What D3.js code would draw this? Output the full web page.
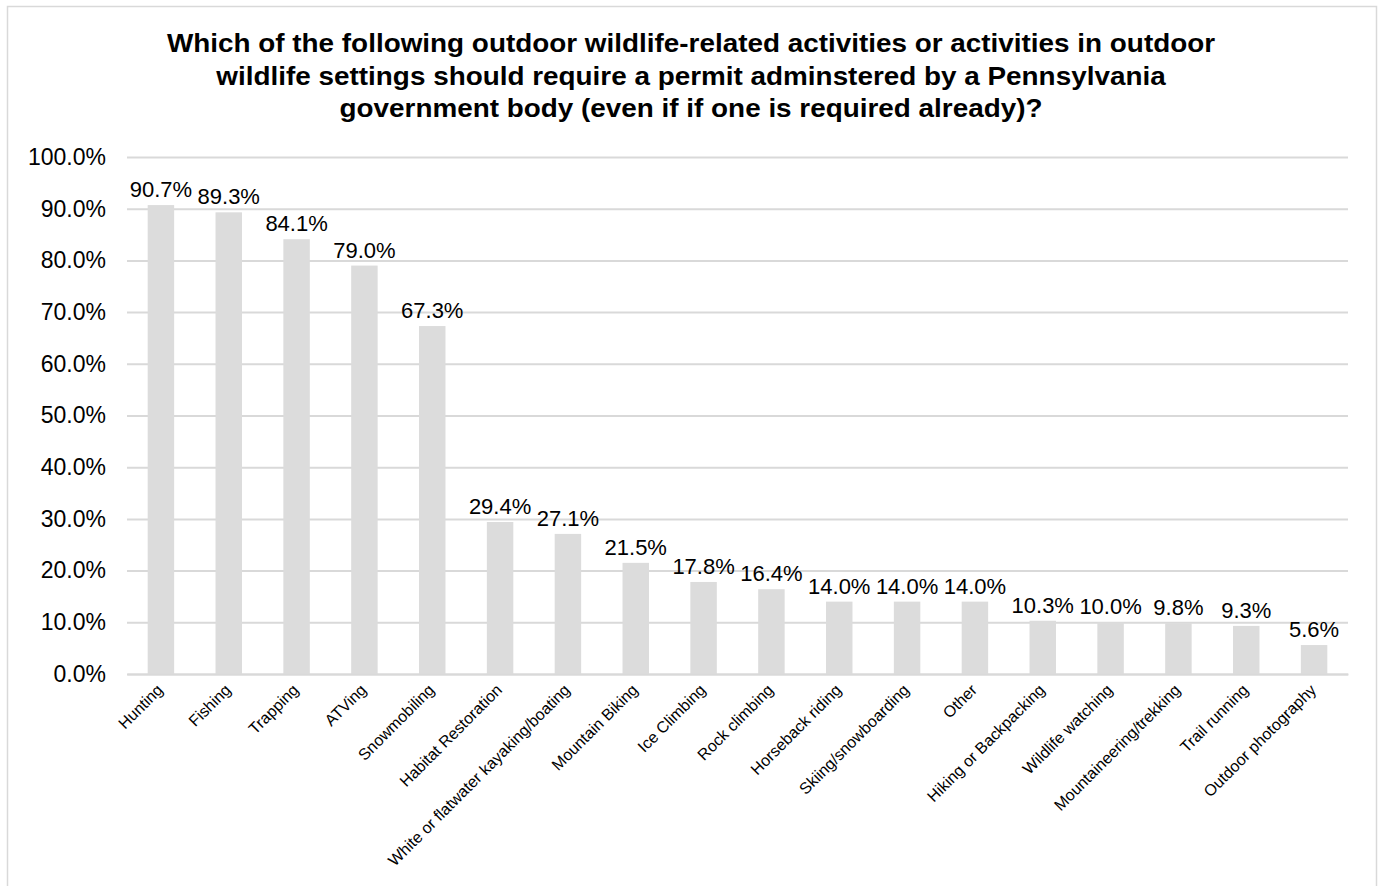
<!DOCTYPE html>
<html>
<head>
<meta charset="utf-8">
<script src="https://cdn.jsdelivr.net/npm/d3@7"></script>
<style>
  html, body { margin: 0; padding: 0; background: #fff; }
  svg { display: block; font-family: "Liberation Sans", Arial, sans-serif; }
</style>
</head>
<body>
<svg id="chart" width="1382" height="886"></svg>
<script>
// Survey responses: share of respondents who think each activity should need a permit
const categories = [
  "Hunting", "Fishing", "Trapping", "ATVing", "Snowmobiling",
  "Habitat Restoration", "White or flatwater kayaking/boating", "Mountain Biking",
  "Ice Climbing", "Rock climbing", "Horseback riding", "Skiing/snowboarding",
  "Other", "Hiking or Backpacking", "Wildlife watching",
  "Mountaineering/trekking", "Trail running", "Outdoor photography"
];
const values = [90.7, 89.3, 84.1, 79.0, 67.3, 29.4, 27.1, 21.5, 17.8, 16.4, 14.0, 14.0, 14.0, 10.3, 10.0, 9.8, 9.3, 5.6];
const yTicks = [0, 10, 20, 30, 40, 50, 60, 70, 80, 90, 100];
const titleLines = [
  "Which of the following outdoor wildlife-related activities or activities in outdoor",
  "wildlife settings should require a permit adminstered by a Pennsylvania",
  "government body (even if if one is required already)?"
];

const svg = d3.select("#chart");
const plot = { left: 127, right: 1348, top: 157, bottom: 674 };
const titleX = 691;

// chart frame
svg.append("rect")
  .attr("x", 7.5).attr("y", 6.5)
  .attr("width", 1369).attr("height", 900)
  .attr("fill", "#fff").attr("stroke", "#d9d9d9").attr("stroke-width", 1.5);

// title (slightly widened bold face)
svg.append("g")
  .attr("transform", `translate(${titleX},0) scale(1.115,1)`)
  .selectAll("text")
  .data(titleLines)
  .join("text")
  .attr("x", 0)
  .attr("y", (d, i) => 52.5 + i * 32.3)
  .attr("text-anchor", "middle")
  .attr("font-size", 25)
  .attr("font-weight", "bold")
  .attr("fill", "#000")
  .text(d => d);

const x = d3.scaleBand()
  .domain(categories)
  .range([plot.left, plot.right])
  .paddingInner(0.61)
  .paddingOuter(0.305);

const y = d3.scaleLinear()
  .domain([0, 100])
  .range([plot.bottom, plot.top]);

// horizontal gridlines + y tick labels
const yAxis = d3.axisLeft(y)
  .tickValues(yTicks)
  .tickSize(-(plot.right - plot.left))
  .tickPadding(21)
  .tickFormat(d => d.toFixed(1) + "%");

const gy = svg.append("g")
  .attr("transform", `translate(${plot.left},0)`)
  .call(yAxis);
gy.select(".domain").remove();
gy.selectAll(".tick line").attr("stroke", "#d9d9d9").attr("stroke-width", 2);
gy.selectAll(".tick text")
  .attr("font-family", "Liberation Sans, Arial, sans-serif")
  .attr("font-size", 23)
  .attr("fill", "#000");

// bars
svg.append("g")
  .selectAll("rect")
  .data(values)
  .join("rect")
  .attr("x", (d, i) => x(categories[i]))
  .attr("y", d => y(d))
  .attr("width", x.bandwidth())
  .attr("height", d => y(0) - y(d))
  .attr("fill", "#dcdcdc");

// value labels
svg.append("g")
  .selectAll("text")
  .data(values)
  .join("text")
  .attr("x", (d, i) => x(categories[i]) + x.bandwidth() / 2)
  .attr("y", d => y(d) - 8)
  .attr("text-anchor", "middle")
  .attr("font-size", 22)
  .attr("fill", "#000")
  .text(d => d.toFixed(1) + "%");

// category axis with rotated labels
const xAxis = d3.axisBottom(x).tickSize(0).tickPadding(0);
const gx = svg.append("g")
  .attr("transform", `translate(0,${plot.bottom})`)
  .call(xAxis);
gx.select(".domain").attr("stroke", "#d9d9d9").attr("stroke-width", 2);
gx.selectAll(".tick text")
  .attr("font-family", "Liberation Sans, Arial, sans-serif")
  .attr("font-size", 16)
  .attr("fill", "#000")
  .attr("text-anchor", "end")
  .attr("dy", null)
  .attr("transform", "translate(3,17) rotate(-45)");
</script>
</body>
</html>
